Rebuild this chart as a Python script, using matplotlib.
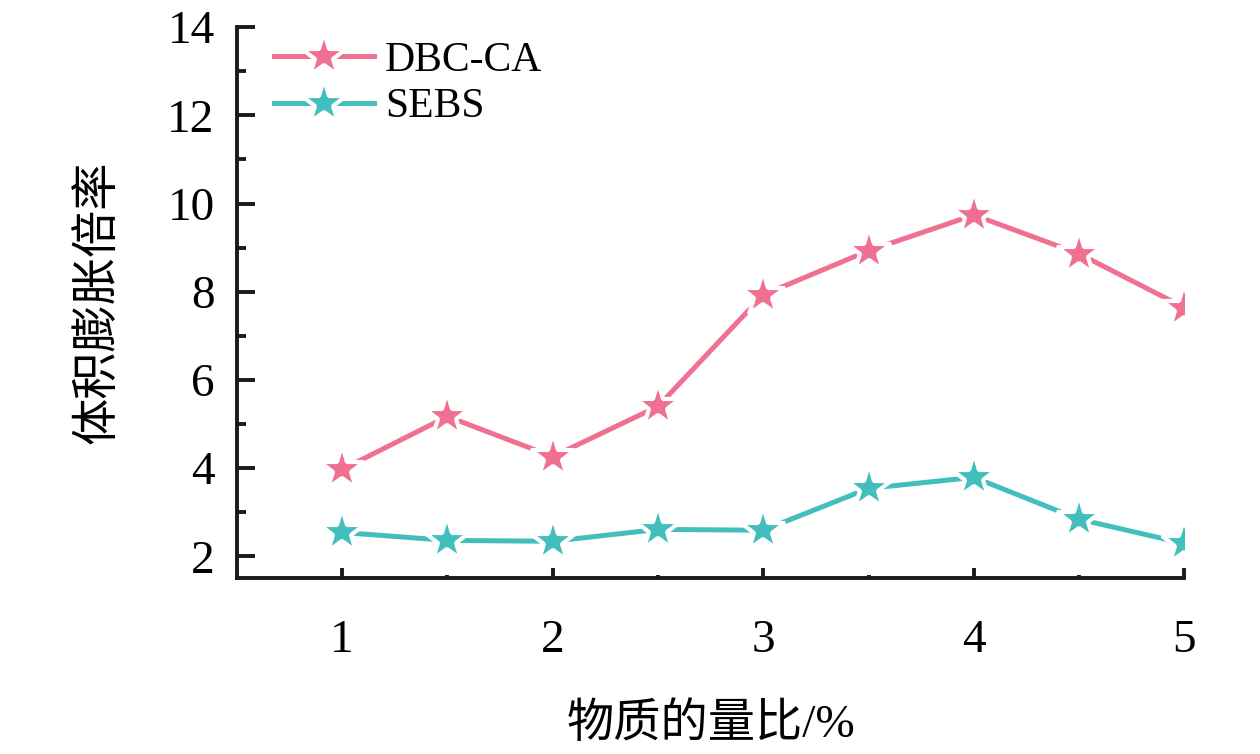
import matplotlib.pyplot as plt
from matplotlib.ticker import MultipleLocator

ratio = [1, 1.5, 2, 2.5, 3, 3.5, 4, 4.5, 5]
dbc_ca = [3.97, 5.17, 4.26, 5.40, 7.93, 8.93, 9.74, 8.86, 7.64]
sebs = [2.54, 2.36, 2.34, 2.61, 2.59, 3.54, 3.79, 2.84, 2.29]

pink = "#EF7090"
teal = "#42BFBD"

plt.rcParams['font.family'] = ['Liberation Serif', 'Noto Sans CJK SC']

fig = plt.figure(figsize=(12.6, 7.54), dpi=100)
ax = fig.add_axes([0.188, 0.233, 0.752, 0.731])

style = dict(lw=3.6, marker='*', markersize=34, markeredgecolor='white',
             markeredgewidth=3.0)
ax.plot(ratio, dbc_ca, color=pink, markerfacecolor=pink, label='DBC-CA', **style)
ax.plot(ratio, sebs, color=teal, markerfacecolor=teal, label='SEBS', **style)

ax.set_xlim(0.5, 5)
ax.set_ylim(1.5, 14)
ax.xaxis.set_major_locator(MultipleLocator(1))
ax.xaxis.set_minor_locator(MultipleLocator(0.5))
ax.yaxis.set_major_locator(MultipleLocator(2))
ax.yaxis.set_minor_locator(MultipleLocator(1))

for s in ['top', 'right']:
    ax.spines[s].set_visible(False)
for s in ['left', 'bottom']:
    ax.spines[s].set_linewidth(2.8)
    ax.spines[s].set_color('#1a1a1a')

ax.tick_params(which='both', direction='in', width=2.8, color='#1a1a1a')
ax.tick_params(which='major', labelsize=34)
ax.tick_params(axis='x', which='major', length=7, pad=30)
ax.tick_params(axis='x', which='minor', length=2.5)
ax.tick_params(axis='y', which='major', length=13, pad=16)
ax.tick_params(axis='y', which='minor', length=6.5)

ax.set_xlabel('物质的量比/%', fontsize=34, labelpad=29)
ax.set_ylabel('体积膨胀倍率', fontsize=34, labelpad=34)

ax.legend(loc='upper left', frameon=False, fontsize=30, handlelength=2.4,
          handletextpad=0.25, labelspacing=0.2, borderaxespad=0.0,
          bbox_to_anchor=(0.022, 1.005))

fig.savefig('out.png', dpi=100)
